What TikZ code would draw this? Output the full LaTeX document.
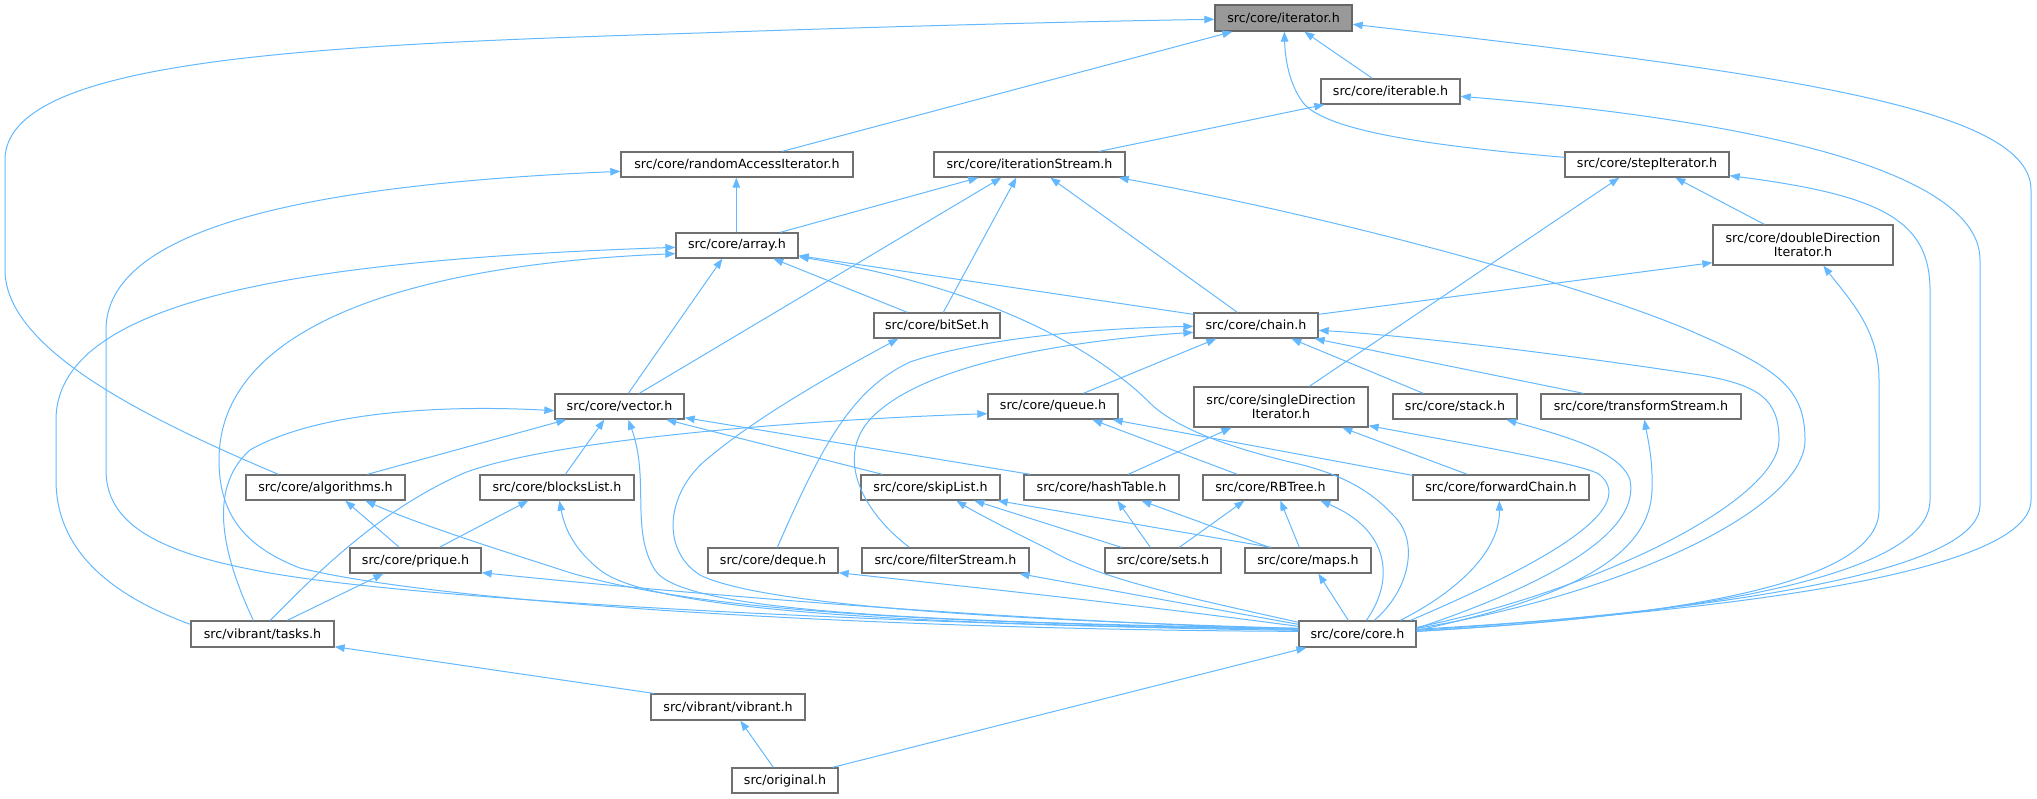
\documentclass[tikz,border=0pt]{standalone}
\usepackage{fontspec}
\setmainfont{DejaVu Sans}
\usetikzlibrary{calc,arrows.meta}
\definecolor{edgec}{HTML}{63B8FF}
\definecolor{boxc}{HTML}{707070}
\definecolor{rootc}{HTML}{999999}
\newcommand\mkbox[7]{%
 \pgfmathsetmacro\bxw{(#4-#2)*0.75}%
 \pgfmathsetmacro\bxh{(#5-#3)*0.75}%
 \node[nbox,minimum width=\bxw pt,minimum height=\bxh pt,#7] (#1) at ({(#2+#4)/2},{(#3+#5)/2}) {#6};}
\begin{document}
\begin{tikzpicture}[x=0.75pt,y=-0.75pt,
  nbox/.style={draw=boxc,line width=1pt,fill=white,inner sep=0pt,align=center,
     font=\fontsize{9.5}{10.8}\selectfont},
  edge/.style={draw=edgec,line width=0.75pt,-{Triangle[length=7.5pt,width=5.6pt]}}]
\useasboundingbox (0,0) rectangle (2037,799);
% nodes
\mkbox{it}{1215}{5}{1352}{31}{src/core/iterator.h}{fill=rootc,draw=black!60}
\mkbox{itb}{1321}{79}{1460}{104}{src/core/iterable.h}{}
\mkbox{rai}{621}{152}{853}{177}{src/core/randomAccessIterator.h}{}
\mkbox{its}{934}{152}{1125}{177}{src/core/iterationStream.h}{}
\mkbox{sti}{1565}{152}{1729}{177}{src/core/stepIterator.h}{}
\mkbox{arr}{676}{233}{798}{258}{src/core/array.h}{}
\mkbox{ddi}{1713}{225}{1893}{265}{src/core/doubleDirection\\Iterator.h}{}
\mkbox{bit}{874}{313}{1000}{338}{src/core/bitSet.h}{}
\mkbox{cha}{1194}{313}{1318}{338}{src/core/chain.h}{}
\mkbox{vec}{555}{394}{684}{419}{src/core/vector.h}{}
\mkbox{que}{988}{394}{1118}{419}{src/core/queue.h}{}
\mkbox{sdi}{1194}{387}{1368}{427}{src/core/singleDirection\\Iterator.h}{}
\mkbox{sta}{1393}{394}{1517}{419}{src/core/stack.h}{}
\mkbox{tra}{1541}{394}{1741}{419}{src/core/transformStream.h}{}
\mkbox{alg}{246}{475}{405}{500}{src/core/algorithms.h}{}
\mkbox{blk}{480}{475}{634}{500}{src/core/blocksList.h}{}
\mkbox{skl}{861}{475}{1000}{500}{src/core/skipList.h}{}
\mkbox{hsh}{1024}{475}{1179}{500}{src/core/hashTable.h}{}
\mkbox{rbt}{1203}{475}{1338}{500}{src/core/RBTree.h}{}
\mkbox{fwc}{1413}{475}{1589}{500}{src/core/forwardChain.h}{}
\mkbox{prq}{350}{548}{481}{573}{src/core/prique.h}{}
\mkbox{deq}{708}{548}{838}{573}{src/core/deque.h}{}
\mkbox{fil}{862}{548}{1029}{573}{src/core/filterStream.h}{}
\mkbox{set}{1105}{548}{1221}{573}{src/core/sets.h}{}
\mkbox{map}{1245}{548}{1371}{573}{src/core/maps.h}{}
\mkbox{tsk}{191}{621}{334}{647}{src/vibrant/tasks.h}{}
\mkbox{cor}{1299}{621}{1416}{647}{src/core/core.h}{}
\mkbox{vib}{651}{694}{805}{720}{src/vibrant/vibrant.h}{}
\mkbox{org}{732}{768}{838}{793}{src/original.h}{}
% edges
\draw[edge] ($(alg.north west)+(33,0)$) .. controls (150,420) and (5,350) .. (5,270) -- (5,160) .. controls (5,60) and (300,45) .. (700,33) .. controls (900,26) and (1100,21) .. ($(it.north west)+(0,15)$);
\draw[edge] ($(rai.north west)+(162,0)$) -- ($(it.south west)+(18,0)$);
\draw[edge] ($(itb.north west)+(52,0)$) -- ($(it.south west)+(90,0)$);
\draw[edge] ($(sti.north west)+(0,6)$) .. controls (1420,145) and (1330,130) .. (1305,105) .. controls (1288,85) and (1285,55) .. ($(it.south west)+(70,0)$);
\draw[edge] ($(cor.north east)+(0,9)$) .. controls (1750,610) and (2031,570) .. (2031,500) -- (2031,190) .. controls (2031,110) and (1800,75) .. ($(it.north east)+(0,20)$);
\draw[edge] ($(cor.north east)+(0,10)$) .. controls (1700,612) and (1980,575) .. (1980,505) -- (1980,260) .. controls (1980,170) and (1750,120) .. ($(itb.north east)+(0,18)$);
\draw[edge] ($(its.north west)+(166,0)$) -- ($(itb.south west)+(4,0)$);
\draw[edge] ($(arr.north west)+(105,0)$) -- ($(its.south west)+(45,0)$);
\draw[edge] ($(vec.north west)+(85,0)$) -- ($(its.south west)+(68,0)$);
\draw[edge] ($(bit.north west)+(70,0)$) -- ($(its.south west)+(83,0)$);
\draw[edge] ($(cha.north west)+(44,0)$) -- ($(its.south west)+(117,0)$);
\draw[edge] ($(cor.north east)+(0,8)$) .. controls (1620,595) and (1805,510) .. (1805,440) .. controls (1805,390) and (1780,370) .. (1700,335) .. controls (1600,290) and (1350,220) .. ($(its.south east)+(-7,0)$);
\draw[edge] ($(arr.north west)+(61,0)$) -- ($(rai.south west)+(116,0)$);
\draw[edge] ($(cor.north west)+(0,10)$) .. controls (900,625) and (400,600) .. (254,570) .. controls (150,550) and (106,520) .. (106,470) -- (106,330) .. controls (106,230) and (300,185) .. ($(rai.north west)+(0,20)$);
\draw[edge] ($(vec.north west)+(74,0)$) -- ($(arr.south west)+(47,0)$);
\draw[edge] ($(bit.north west)+(34,0)$) -- ($(arr.south west)+(98,0)$);
\draw[edge] ($(cha.north west)+(0,2)$) -- ($(arr.south east)+(0,-3)$);
\draw[edge] ($(cor.north west)+(76,0)$) .. controls (1410,590) and (1420,540) .. (1393,515) .. controls (1370,490) and (1340,473) .. (1290,462) .. controls (1220,445) and (1170,425) .. (1147,400) .. controls (1100,355) and (1000,290) .. ($(arr.south east)+(0,-2)$);
\draw[edge] ($(tsk.north west)+(0,4)$) .. controls (110,595) and (56,550) .. (56,480) -- (56,420) .. controls (56,300) and (300,260) .. ($(arr.north west)+(0,15)$);
\draw[edge] ($(cor.north west)+(0,11)$) .. controls (900,630) and (450,605) .. (300,568) .. controls (240,545) and (219,510) .. (219,460) .. controls (219,330) and (400,265) .. ($(arr.south west)+(0,-5)$);
\draw[edge] ($(cha.north east)+(0,2)$) -- ($(ddi.south west)+(0,-3)$);
\draw[edge] ($(ddi.north west)+(52,0)$) -- ($(sti.south west)+(111,0)$);
\draw[edge] ($(sdi.north west)+(116,0)$) -- ($(sti.south west)+(55,0)$);
\draw[edge] ($(cor.north east)+(0,11)$) .. controls (1700,615) and (1930,575) .. (1930,500) -- (1930,290) .. controls (1930,220) and (1880,195) .. ($(sti.south east)+(0,-2)$);
\draw[edge] ($(cor.north east)+(0,11)$) .. controls (1700,615) and (1879,580) .. (1879,510) -- (1879,380) .. controls (1879,330) and (1850,300) .. ($(ddi.south west)+(111,0)$);
\draw[edge] ($(cor.north east)+(0,7)$) .. controls (1600,590) and (1779,500) .. (1779,440) .. controls (1779,400) and (1760,385) .. (1700,375) .. controls (1550,352) and (1400,335) .. ($(cha.north east)+(0,18)$);
\draw[edge] ($(deq.north west)+(70,0)$) .. controls (820,450) and (850,390) .. (910,362) .. controls (980,338) and (1100,328) .. ($(cha.north west)+(0,14)$);
\draw[edge] ($(fil.north west)+(48,0)$) .. controls (860,510) and (830,450) .. (880,410) .. controls (940,360) and (1080,340) .. ($(cha.north west)+(0,20)$);
\draw[edge] ($(que.north west)+(96,0)$) -- ($(cha.south west)+(23,0)$);
\draw[edge] ($(sta.north west)+(31,0)$) -- ($(cha.south west)+(98,0)$);
\draw[edge] ($(tra.north west)+(43,0)$) -- ($(cha.south east)+(-4,0)$);
\draw[edge] ($(alg.north west)+(122,0)$) -- ($(vec.south west)+(12,0)$);
\draw[edge] ($(blk.north west)+(86,0)$) -- ($(vec.south west)+(50,0)$);
\draw[edge] ($(tsk.north west)+(63,0)$) .. controls (225,560) and (205,490) .. (250,450) .. controls (320,410) and (450,405) .. ($(vec.south west)+(0,-9)$);
\draw[edge] ($(cor.north west)+(0,8)$) .. controls (900,622) and (680,610) .. (655,570) .. controls (630,530) and (650,480) .. ($(vec.south west)+(74,0)$);
\draw[edge] ($(skl.north west)+(22,0)$) -- ($(vec.south west)+(112,0)$);
\draw[edge] ($(hsh.north west)+(7,0)$) -- ($(vec.south east)+(0,-2)$);
\draw[edge] ($(tsk.north west)+(80,0)$) .. controls (320,570) and (380,510) .. (464,473) .. controls (550,440) and (800,420) .. ($(que.south west)+(0,-6)$);
\draw[edge] ($(rbt.north west)+(35,0)$) -- ($(que.south west)+(105,0)$);
\draw[edge] ($(fwc.north west)+(0,1)$) -- ($(que.south east)+(-6,0)$);
\draw[edge] ($(hsh.north west)+(105,0)$) -- ($(sdi.south west)+(38,0)$);
\draw[edge] ($(fwc.north west)+(55,0)$) -- ($(sdi.south west)+(149,0)$);
\draw[edge] ($(cor.north east)+(-6,0)$) .. controls (1540,565) and (1640,510) .. (1600,475) .. controls (1590,466) and (1500,450) .. ($(sdi.south east)+(0,-2)$);
\draw[edge] ($(cor.north west)+(0,8)$) .. controls (1000,620) and (760,605) .. (700,575) .. controls (660,550) and (665,490) .. (712,455) .. controls (760,415) and (840,370) .. ($(bit.south west)+(25,0)$);
\draw[edge] ($(prq.north west)+(50,0)$) -- ($(alg.south west)+(100,0)$);
\draw[edge] ($(cor.north west)+(0,9)$) .. controls (900,622) and (700,610) .. (571,573) .. controls (500,550) and (420,525) .. ($(alg.south west)+(120,0)$);
\draw[edge] ($(prq.north west)+(90,0)$) -- ($(blk.south west)+(49,0)$);
\draw[edge] ($(cor.north west)+(0,9)$) .. controls (900,625) and (650,610) .. (600,570) .. controls (575,550) and (565,530) .. ($(blk.south west)+(80,0)$);
\draw[edge] ($(tsk.north west)+(97,0)$) -- ($(prq.south west)+(34,0)$);
\draw[edge] ($(cor.north west)+(0,9)$) .. controls (1000,620) and (700,595) .. ($(prq.south east)+(0,-1)$);
\draw[edge] ($(vib.north west)+(3,0)$) -- ($(tsk.south east)+(0,-1)$);
\draw[edge] ($(org.north west)+(42,0)$) -- ($(vib.south west)+(90,0)$);
\draw[edge] ($(org.north east)+(-6,0)$) -- ($(cor.south west)+(8,0)$);
\draw[edge] ($(cor.north west)+(50,0)$) -- ($(map.south west)+(74,0)$);
\draw[edge] ($(cor.north west)+(0,6)$) .. controls (1100,600) and (950,585) .. ($(deq.south east)+(0,-1)$);
\draw[edge] ($(cor.north west)+(0,4)$) -- ($(fil.south west)+(158,0)$);
\draw[edge] ($(cor.north west)+(0,2)$) .. controls (1200,600) and (1100,580) .. (1050,550) .. controls (1010,530) and (980,515) .. ($(skl.south west)+(96,0)$);
\draw[edge] ($(set.north west)+(17,0)$) -- ($(skl.south west)+(114,0)$);
\draw[edge] ($(map.north west)+(27,0)$) -- ($(skl.south east)+(-3,0)$);
\draw[edge] ($(set.north west)+(46,0)$) -- ($(hsh.south west)+(94,0)$);
\draw[edge] ($(map.north west)+(25,0)$) -- ($(hsh.south west)+(118,0)$);
\draw[edge] ($(set.north west)+(75,0)$) -- ($(rbt.south west)+(42,0)$);
\draw[edge] ($(map.north west)+(55,0)$) -- ($(rbt.south west)+(78,0)$);
\draw[edge] ($(cor.north west)+(68,0)$) .. controls (1395,580) and (1390,530) .. ($(rbt.south west)+(118,0)$);
\draw[edge] ($(cor.north west)+(102,0)$) .. controls (1460,590) and (1500,550) .. ($(fwc.south west)+(87,0)$);
\draw[edge] ($(cor.north east)+(0,8)$) .. controls (1560,580) and (1640,530) .. (1630,480) .. controls (1620,450) and (1560,435) .. ($(sta.south west)+(114,0)$);
\draw[edge] ($(cor.north east)+(0,10)$) .. controls (1560,600) and (1650,560) .. (1652,490) .. controls (1653,460) and (1648,440) .. ($(tra.south west)+(104,0)$);
\end{tikzpicture}
\end{document}
